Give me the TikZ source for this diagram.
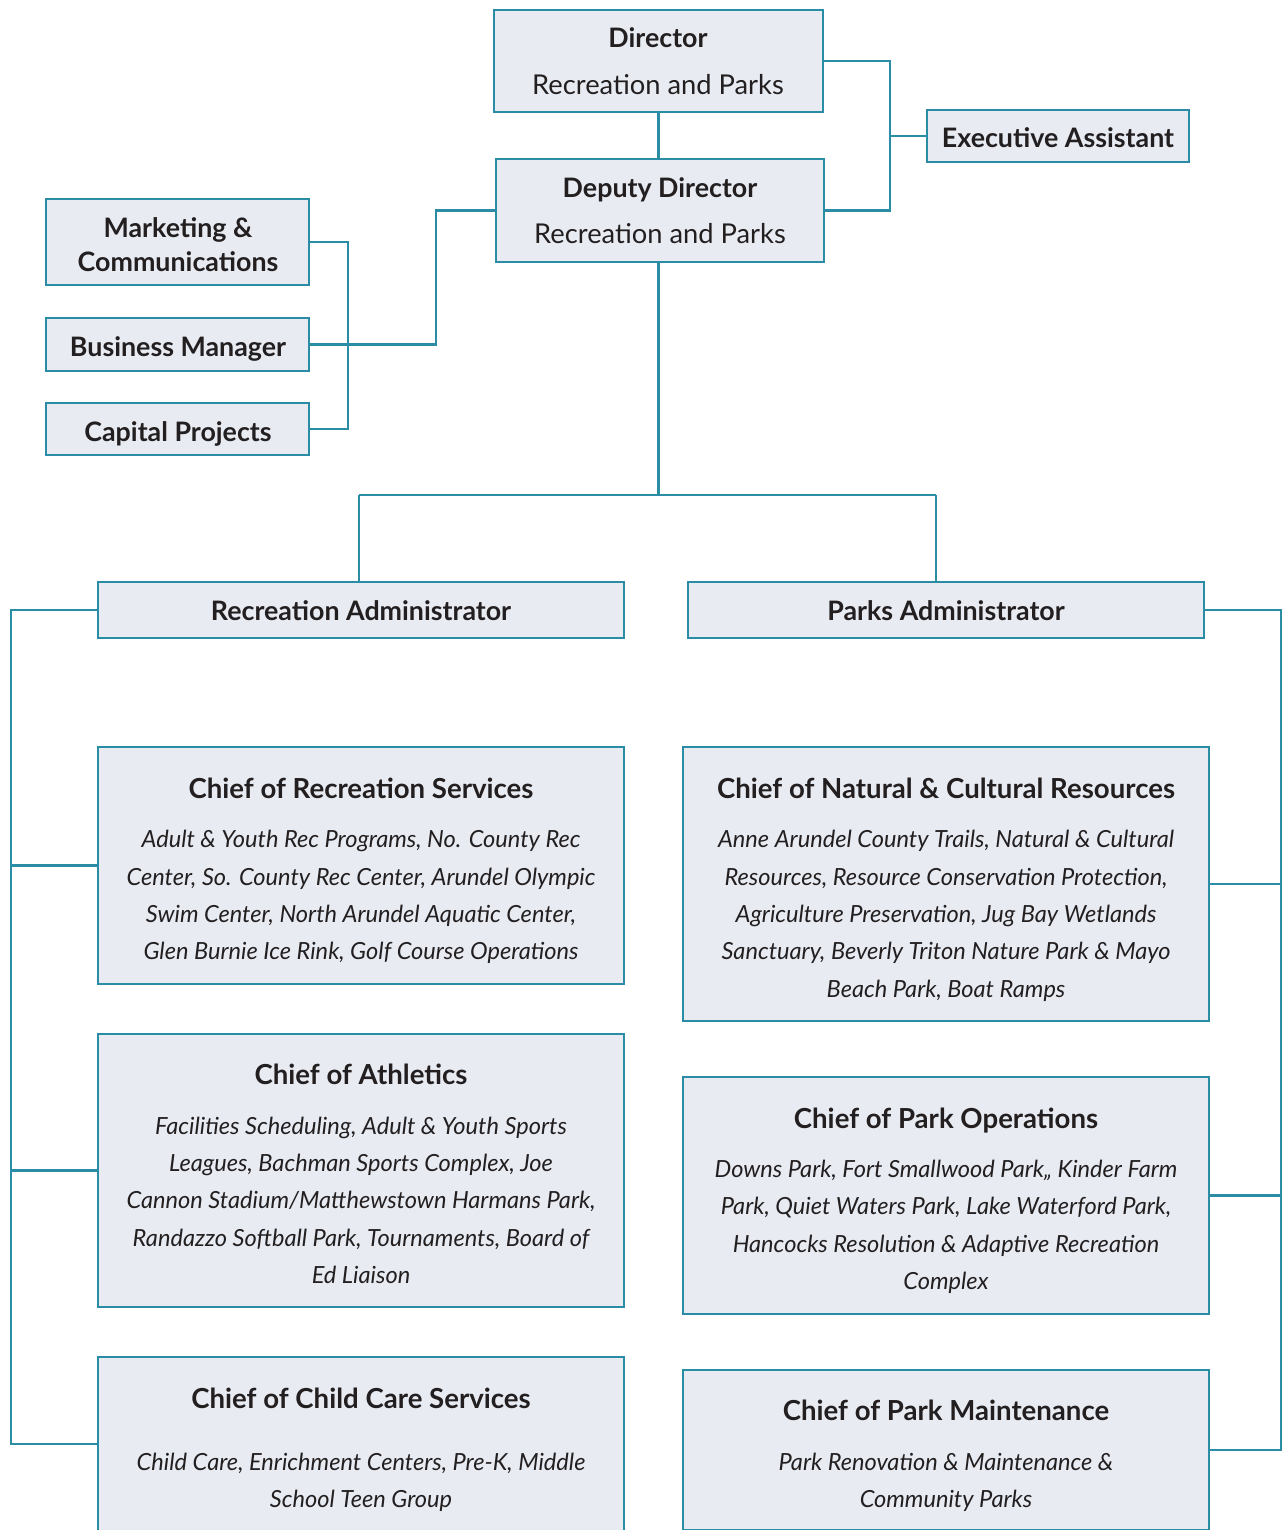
\documentclass[tikz,border=0pt]{standalone}
\usepackage{fontspec}
\setmainfont{Lato}
\definecolor{edge}{HTML}{2A8DA5}
\definecolor{boxfill}{HTML}{E8ECF2}
\definecolor{ink}{HTML}{231F20}
\begin{document}
\begin{tikzpicture}[x=1pt,y=-1pt,
  box/.style={draw=edge,line width=2.6pt,fill=boxfill,inner sep=0pt,outer sep=0pt,anchor=north west},
  conn/.style={draw=edge,line width=2.6pt},
  hd/.style={inner sep=0pt,anchor=center,text=ink,font=\fontsize{26.8}{30}\selectfont\bfseries,text height=9.6pt,text depth=-9.6pt,yshift=-5pt},
  sub/.style={inner sep=0pt,anchor=center,text=ink,font=\fontsize{27.3}{30}\selectfont,text height=9.8pt,text depth=-9.8pt,yshift=-5pt},
  ttl/.style={inner sep=0pt,anchor=center,text=ink,font=\fontsize{27.6}{30}\selectfont\bfseries,text height=9.9pt,text depth=-9.9pt,yshift=-5.5pt},
  it/.style={inner sep=0pt,anchor=center,text=ink,font=\fontsize{23.6}{30}\selectfont\itshape,text height=8.5pt,text depth=-8.5pt,yshift=-4pt}]
\useasboundingbox (0,0) rectangle (1284,1530);
\clip (0,0) rectangle (1284,1530);
% boxes
\node[box,minimum width=329pt,minimum height=102pt] (dir) at (494,10) {};
\node[box,minimum width=328pt,minimum height=103pt] (dep) at (496,159) {};
\node[box,minimum width=262pt,minimum height=52pt] (ea) at (927,110) {};
\node[box,minimum width=263pt,minimum height=86pt] (mkt) at (46,199) {};
\node[box,minimum width=263pt,minimum height=53pt] (bm) at (46,318) {};
\node[box,minimum width=263pt,minimum height=52pt] (cp) at (46,403) {};
\node[box,minimum width=526pt,minimum height=56pt] (rec) at (98,582) {};
\node[box,minimum width=516pt,minimum height=56pt] (prk) at (688,582) {};
\node[box,minimum width=526pt,minimum height=237pt] (crs) at (98,747) {};
\node[box,minimum width=526pt,minimum height=273pt] (ath) at (98,1034) {};
\node[box,minimum width=526pt,minimum height=174pt] (ccs) at (98,1357) {};
\node[box,minimum width=526pt,minimum height=274pt] (ncr) at (683,747) {};
\node[box,minimum width=526pt,minimum height=237pt] (pop) at (683,1077) {};
\node[box,minimum width=526pt,minimum height=160pt] (pmt) at (683,1370) {};
% bus points
\coordinate (eabus) at (890,136);
\coordinate (lbus) at (348,345);
\coordinate (jog) at (436,345);
\coordinate (tl) at (359,495);
\coordinate (tr) at (936,495);
\coordinate (lb) at (11,1444);
\coordinate (rb) at (1281,1450);
% connectors
\draw[conn] (dir.south) -- (dir.south |- dep.north);
\draw[conn] (dir.east) -| (eabus) |- (dep.east);
\draw[conn] (ea.west) -- (ea.west -| eabus);
\draw[conn] (mkt.east) -| (lbus) |- (cp.east);
\draw[conn] (bm.east) -- (bm.east -| jog) |- (dep.west);
\draw[conn] (dir.south |- dep.south) -- (dir.south |- tl);
\draw[conn] (tl) -- (tr);
\draw[conn] (tl) -- (tl |- rec.north);
\draw[conn] (tr) -- (tr |- prk.north);
\draw[conn] (rec.west) -| (lb |- ccs.west) -- (ccs.west);
\draw[conn] (crs.west) -- (crs.west -| lb);
\draw[conn] (ath.west) -- (ath.west -| lb);
\draw[conn] (prk.east) -| (rb |- pmt.east) -- (pmt.east);
\draw[conn] (ncr.east) -- (ncr.east -| rb);
\draw[conn] (pop.east) -- (pop.east -| rb);
% texts
\node[hd] (t1) at (658,38) {Director};
\node[sub] (t2) at (658,85) {Recreation and Parks};
\node[hd] (t3) at (660,188) {Deputy Director};
\node[sub] (t4) at (660,234) {Recreation and Parks};
\node[hd] (t5) at (1058,138) {Executive Assistant};
\node[hd] (t6) at (178,228) {Marketing \&};
\node[hd] (t7) at (178,262) {Communications};
\node[hd] (t8) at (178,347) {Business Manager};
\node[hd] (t9) at (178,432) {Capital Projects};
\node[hd] (t10) at (361,611) {Recreation Administrator};
\node[hd] (t11) at (946,611) {Parks Administrator};
% chief of recreation services
\node[ttl] (c1) at (361,788) {Chief of Recreation Services};
\node[it] (c1a) at (361,839) {Adult \& Youth Rec Programs, No. County Rec};
\node[it] (c1b) at (361,877) {Center, So. County Rec Center, Arundel Olympic};
\node[it] (c1c) at (361,914) {Swim Center, North Arundel Aquatic Center,};
\node[it] (c1d) at (361,951) {Glen Burnie Ice Rink, Golf Course Operations};
% athletics
\node[ttl] (c2) at (361,1074) {Chief of Athletics};
\node[it] (c2a) at (361,1126) {Facilities Scheduling, Adult \& Youth Sports};
\node[it] (c2b) at (361,1163) {Leagues, Bachman Sports Complex, Joe};
\node[it] (c2c) at (361,1200) {Cannon Stadium/Matthewstown Harmans Park,};
\node[it] (c2d) at (361,1238) {Randazzo Softball Park, Tournaments, Board of};
\node[it] (c2e) at (361,1275) {Ed Liaison};
% child care
\node[ttl] (c3) at (361,1398) {Chief of Child Care Services};
\node[it] (c3a) at (361,1462) {Child Care, Enrichment Centers, Pre-K, Middle};
\node[it] (c3b) at (361,1499) {School Teen Group};
% natural
\node[ttl] (c4) at (946,788) {Chief of Natural \& Cultural Resources};
\node[it] (c4a) at (946,839) {Anne Arundel County Trails, Natural \& Cultural};
\node[it] (c4b) at (946,877) {Resources, Resource Conservation Protection,};
\node[it] (c4c) at (946,914) {Agriculture Preservation, Jug Bay Wetlands};
\node[it] (c4d) at (946,951) {Sanctuary, Beverly Triton Nature Park \& Mayo};
\node[it] (c4e) at (946,989) {Beach Park, Boat Ramps};
% park ops
\node[ttl] (c5) at (946,1118) {Chief of Park Operations};
\node[it] (c5a) at (946,1169) {Downs Park, Fort Smallwood Park,, Kinder Farm};
\node[it] (c5b) at (946,1206) {Park, Quiet Waters Park, Lake Waterford Park,};
\node[it] (c5c) at (946,1244) {Hancocks Resolution \& Adaptive Recreation};
\node[it] (c5d) at (946,1281) {Complex};
% maintenance
\node[ttl] (c6) at (946,1410) {Chief of Park Maintenance};
\node[it] (c6a) at (946,1462) {Park Renovation \& Maintenance \&};
\node[it] (c6b) at (946,1499) {Community Parks};
\end{tikzpicture}
\end{document}
